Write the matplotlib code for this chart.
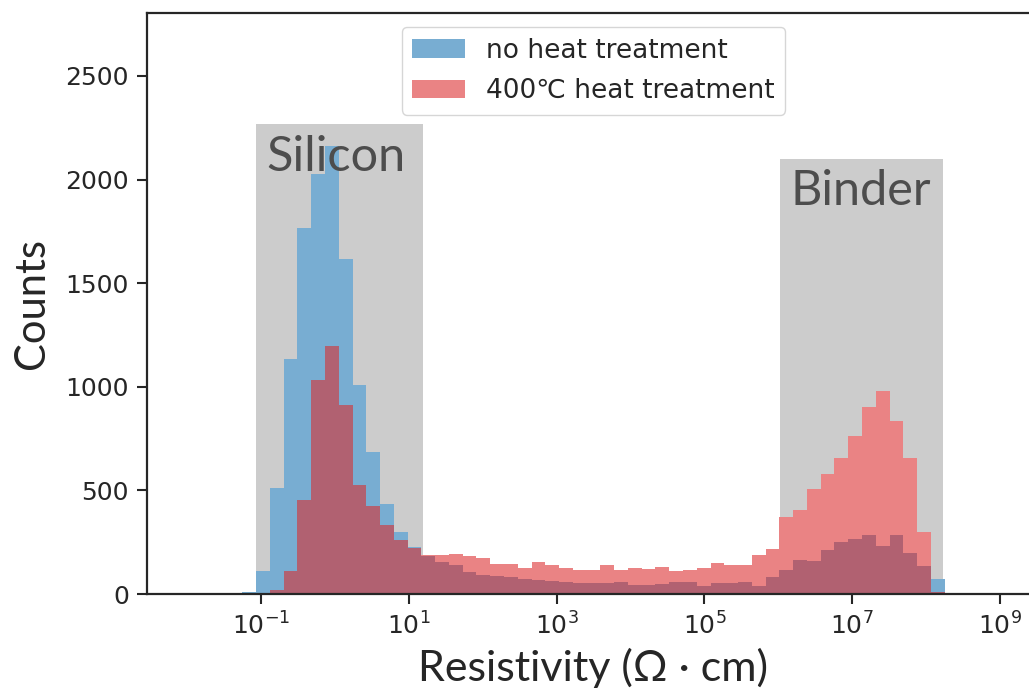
import numpy as np
import matplotlib
matplotlib.use("Agg")
import matplotlib.pyplot as plt
from matplotlib.patches import Rectangle

# ---------------- data ----------------
log_edge_range = (-1.25, 8.25)   # log10 of first / last bin edge
n_bins = 51

no_heat_counts = [10, 110, 510, 1132, 1765, 2028, 2161, 1618, 1010, 684,
                  432, 298, 226, 185, 154, 141, 105, 92, 86, 81,
                  73, 68, 62, 57, 52, 52, 54, 57, 44, 44,
                  49, 57, 57, 41, 52, 54, 57, 41, 84, 117,
                  165, 158, 213, 250, 266, 286, 234, 286, 197, 133,
                  70]
heat_400_counts = [0, 3, 17, 110, 456, 1035, 1199, 910, 524, 427,
                   331, 262, 223, 188, 186, 193, 181, 173, 146, 146,
                   124, 155, 142, 126, 116, 116, 142, 116, 126, 121,
                   129, 113, 116, 126, 150, 141, 141, 187, 218, 374,
                   403, 508, 580, 657, 762, 902, 982, 833, 655, 298,
                   8]
series_labels = ["no heat treatment", "400\u2103 heat treatment"]

region_names = ["Silicon", "Binder"]
region_x_ranges = [(0.086, 15.8), (1.04e6, 1.7e8)]
region_tops = [2270, 2100]
region_label_pos = [(1.05, 2040), (1.3e7, 1877)]

x_ticks = [1e-1, 1e1, 1e3, 1e5, 1e7, 1e9]
y_ticks = [0, 500, 1000, 1500, 2000, 2500]
x_label = "Resistivity (\u03a9 \u00b7 cm)"
y_label = "Counts"

# ---------------- plot ----------------
edges = np.logspace(log_edge_range[0], log_edge_range[1], n_bins + 1)
centers = np.sqrt(edges[:-1] * edges[1:])
envelope = np.maximum(no_heat_counts, heat_400_counts)

W, H = 1029, 690
fig = plt.figure(figsize=(W / 100, H / 100), dpi=100)
ax = fig.add_axes([147 / W, 96 / H, (1040 - 147) / W, (594 - 13) / H])

text_col = "#262626"
label_font = "Lato"

for (x0, x1), top in zip(region_x_ranges, region_tops):
    ax.add_patch(Rectangle((x0, 0), x1 - x0, top, facecolor="#cccccc",
                           edgecolor="none", zorder=0))

# bars sit on a white ground so the shaded regions do not tint them
ax.hist(centers, bins=edges, weights=envelope, color="white", zorder=0.5)
ax.hist(centers, bins=edges, weights=no_heat_counts, color="#1f77b4",
        alpha=0.6, label=series_labels[0], zorder=1)
ax.hist(centers, bins=edges, weights=heat_400_counts, color="#dc2a2c",
        alpha=0.58, label=series_labels[1], zorder=2)

for name, (tx, ty) in zip(region_names, region_label_pos):
    ax.text(tx, ty, name, ha="center", va="baseline", fontsize=35,
            family=label_font, color="#4d4d4d", zorder=3)

ax.set_xscale("log")
ax.set_xlim(10 ** -2.54, 10 ** 9.54)
ax.set_ylim(0, 2804)
ax.set_xticks(x_ticks)
ax.xaxis.set_minor_locator(matplotlib.ticker.NullLocator())
ax.set_yticks(y_ticks)

ax.tick_params(axis="both", which="major", labelsize=18, length=7,
               width=1.5, color=text_col, labelcolor=text_col, pad=6)
for side in ["left", "bottom", "top", "right"]:
    ax.spines[side].set_color(text_col)
    ax.spines[side].set_linewidth(1.6)

ax.set_xlabel(x_label, fontsize=31, family=label_font, color=text_col,
              labelpad=6)
ax.set_ylabel(y_label, fontsize=30, family=label_font, color=text_col,
              labelpad=10)

leg = ax.legend(loc="upper center", fontsize=19, frameon=True,
                borderaxespad=0.53, handlelength=2.0, handleheight=0.7,
                labelspacing=0.55)
leg.get_frame().set_edgecolor("0.8")
for t in leg.get_texts():
    t.set_color(text_col)

fig.savefig("out.png", dpi=100)
